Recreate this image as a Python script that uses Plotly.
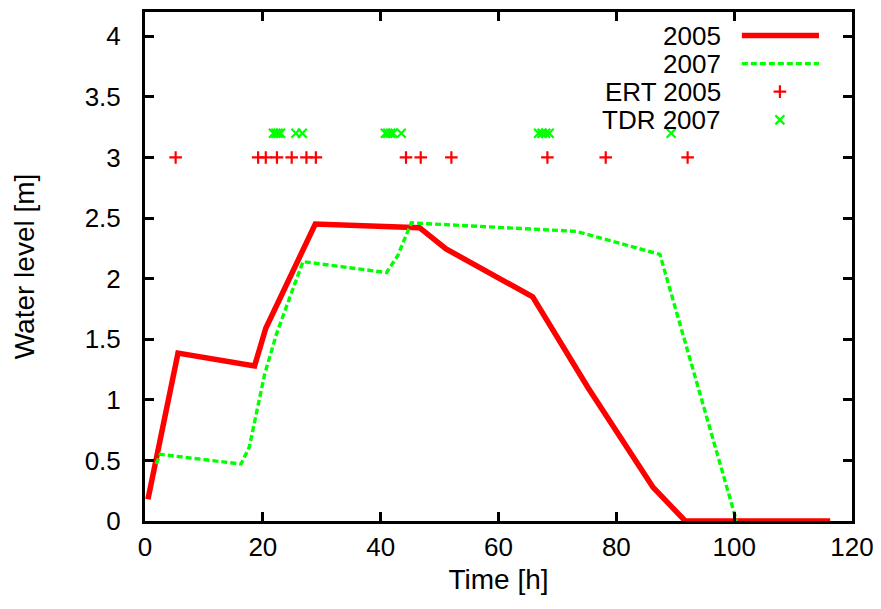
import plotly.graph_objects as go

# ---- data ----
t_2005 = [0.5, 5.6, 18.6, 20.5, 28.9, 46.6, 51.1, 65.8, 75.2, 80.0, 86.2, 91.7, 116.3]
v_2005 = [0.18, 1.385, 1.28, 1.59, 2.45, 2.42, 2.245, 1.85, 1.10, 0.745, 0.28, 0.0, 0.0]

t_2007 = [1.9, 2.6, 16.3, 17.7, 20.3, 22.3, 24.5, 26.8, 41.0, 42.9, 45.2, 73.2, 87.4, 100.4]
v_2007 = [0.47, 0.55, 0.47, 0.61, 1.21, 1.54, 1.835, 2.14, 2.05, 2.19, 2.46, 2.39, 2.20, 0.0]

t_ert2005 = [5.2, 19.2, 20.5, 22.4, 24.9, 27.4, 29.0, 44.3, 46.8, 52.0, 68.3, 78.2, 92.1]
v_ert2005 = [3.0] * len(t_ert2005)

t_tdr2007 = [21.8, 22.2, 22.6, 23.0, 25.6, 26.7, 40.8, 41.2, 41.7, 42.1, 43.5,
             66.8, 67.4, 68.0, 68.6, 89.3]
v_tdr2007 = [3.2] * len(t_tdr2007)

legend_names = ["2005", "2007", "ERT 2005", "TDR 2007"]

RED = "#ff0000"
GREEN = "#00ff00"
FONT = "Liberation Sans, Arial, Helvetica, sans-serif"

fig = go.Figure()

fig.add_trace(go.Scatter(x=t_2005, y=v_2005, mode="lines",
                         line=dict(color=RED, width=5.5), showlegend=False))
fig.add_trace(go.Scatter(x=t_2007, y=v_2007, mode="lines",
                         line=dict(color=GREEN, width=3.4, dash="6px,3px"), showlegend=False))
fig.add_trace(go.Scatter(x=t_ert2005, y=v_ert2005, mode="markers",
                         marker=dict(symbol="cross-thin", size=9, color=RED,
                                     line=dict(color=RED, width=2.2)), showlegend=False))
fig.add_trace(go.Scatter(x=t_tdr2007, y=v_tdr2007, mode="markers",
                         marker=dict(symbol="x-thin", size=9, color=GREEN,
                                     line=dict(color=GREEN, width=2.2)), showlegend=False))

# ---- gnuplot-style key (text left, sample right) on an overlay axis ----
key_y = [0.9538, 0.8986, 0.8435, 0.7881]
key_text_x = 0.8174
key_line_x = [0.8442, 0.9533]
key_mark_x = 0.8980

fig.add_trace(go.Scatter(x=key_line_x, y=[key_y[0]] * 2, mode="lines", xaxis="x2", yaxis="y2",
                         line=dict(color=RED, width=5.5), showlegend=False, hoverinfo="skip"))
fig.add_trace(go.Scatter(x=key_line_x, y=[key_y[1]] * 2, mode="lines", xaxis="x2", yaxis="y2",
                         line=dict(color=GREEN, width=3.4, dash="6px,3px"), showlegend=False,
                         hoverinfo="skip"))
fig.add_trace(go.Scatter(x=[key_mark_x], y=[key_y[2]], mode="markers", xaxis="x2", yaxis="y2",
                         marker=dict(symbol="cross-thin", size=9, color=RED,
                                     line=dict(color=RED, width=2.2)), showlegend=False,
                         hoverinfo="skip"))
fig.add_trace(go.Scatter(x=[key_mark_x], y=[key_y[3]], mode="markers", xaxis="x2", yaxis="y2",
                         marker=dict(symbol="x-thin", size=9, color=GREEN,
                                     line=dict(color=GREEN, width=2.2)), showlegend=False,
                         hoverinfo="skip"))

annotations = []
for name, yy in zip(legend_names, key_y):
    annotations.append(dict(text=name, x=key_text_x, y=yy, xref="paper", yref="paper",
                            xanchor="right", yanchor="middle", showarrow=False,
                            font=dict(family=FONT, size=26, color="black")))

axis_common = dict(showline=True, linewidth=3, linecolor="black", mirror="ticks",
                   ticks="inside", ticklen=9, tickwidth=3, tickcolor="black",
                   showgrid=False, zeroline=False,
                   tickfont=dict(family=FONT, size=26, color="black"))

# page body has an 8px margin, so the figure is sized/margined to compensate
fig.update_layout(
    width=873, height=601,
    margin=dict(l=137, r=29, t=1, b=88),
    paper_bgcolor="white", plot_bgcolor="white",
    xaxis=dict(range=[0, 120], tickvals=[0, 20, 40, 60, 80, 100, 120],
               title=dict(text="Time [h]", font=dict(family=FONT, size=28, color="black"),
                          standoff=9),
               ticklabelstandoff=1, **axis_common),
    yaxis=dict(range=[0, 4.2], tickvals=[0, 0.5, 1, 1.5, 2, 2.5, 3, 3.5, 4],
               ticktext=["0", "0.5", "1", "1.5", "2", "2.5", "3", "3.5", "4"],
               title=dict(text="Water level [m]", font=dict(family=FONT, size=28, color="black"),
                          standoff=42),
               ticklabelstandoff=16, **axis_common),
    xaxis2=dict(range=[0, 1], overlaying="x", visible=False, fixedrange=True),
    yaxis2=dict(range=[0, 1], overlaying="y", visible=False, fixedrange=True),
    annotations=annotations,
    showlegend=False,
)

fig.write_html("out.html")
